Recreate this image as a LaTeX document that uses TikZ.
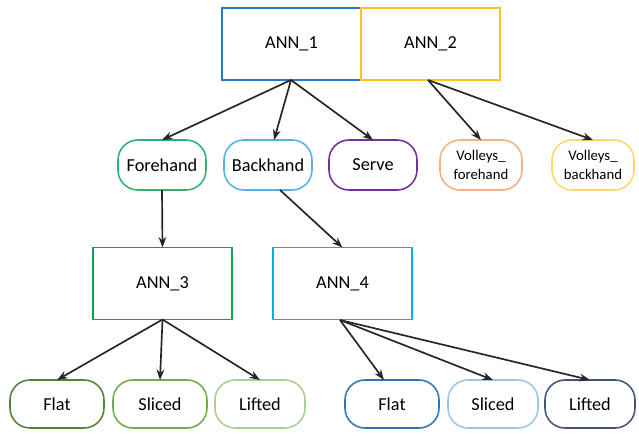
\documentclass[tikz,border=0pt]{standalone}
\usepackage{fontspec}
\setmainfont{Carlito}
\usetikzlibrary{arrows.meta}

\definecolor{annone}{RGB}{40,120,200}
\definecolor{anntwo}{RGB}{255,195,30}
\definecolor{annthree}{RGB}{0,166,81}
\definecolor{annfour}{RGB}{0,176,240}
\definecolor{forecol}{RGB}{40,180,110}
\definecolor{backcol}{RGB}{80,180,230}
\definecolor{servecol}{RGB}{112,48,160}
\definecolor{volfcol}{RGB}{244,177,131}
\definecolor{volbcol}{RGB}{255,217,102}
\definecolor{flatg}{RGB}{84,130,53}
\definecolor{slicedg}{RGB}{112,173,71}
\definecolor{liftedg}{RGB}{169,208,142}
\definecolor{flatb}{RGB}{46,117,182}
\definecolor{slicedb}{RGB}{157,195,230}
\definecolor{liftedb}{RGB}{68,84,120}

\tikzset{
    annbox/.style={draw, line width=1.3pt, minimum width=3.475cm, minimum height=1.8cm,
        inner sep=0pt, outer sep=0pt, font=\fontsize{13}{15}\selectfont},
    stroke/.style={draw, line width=1.1pt, rounded corners=0.5cm, minimum width=2.2cm,
        minimum height=1.25cm, inner sep=0pt, outer sep=0pt, align=center,
        font=\fontsize{13}{15}\selectfont},
    shot/.style={stroke, minimum width=2.35cm, minimum height=1.2cm},
    link/.style={line width=1.2pt, draw=black!85, -{Stealth[length=7.5pt,width=5.5pt]}},
}

\begin{document}
\begin{tikzpicture}[x=0.025cm, y=-0.025cm]
    \useasboundingbox (0,0) rectangle (639,435);

    \node [annbox, draw=annone] (ann1) at (291.5,44) {ANN\_1};
    \node [annbox, draw=anntwo] (ann2) at (430.5,44) {ANN\_2};

    \node [stroke, draw=forecol] (fore) at (162,165) {Forehand};
    \node [stroke, draw=backcol] (back) at (268,165) {Backhand};
    \node [stroke, draw=servecol] (serve) at (373,165) {Serve};
    \node [stroke, draw=volfcol, minimum width=2.05cm, font=\fontsize{10.5}{13}\selectfont]
        (volf) at (481,165) {Volleys\_\\forehand};
    \node [stroke, draw=volbcol, minimum width=2.05cm, font=\fontsize{10.5}{13}\selectfont]
        (volb) at (593,165) {Volleys\_\\backhand};

    \node [annbox, draw=annthree] (ann3) at (162.5,283.5) {ANN\_3};
    \node [annbox, draw=annfour] (ann4) at (342.5,283.5) {ANN\_4};

    \node [shot, draw=flatg] (flat3) at (57,404) {Flat};
    \node [shot, draw=slicedg] (sliced3) at (160,404) {Sliced};
    \node [shot, draw=liftedg, minimum width=2.25cm] (lifted3) at (260,404) {Lifted};
    \node [shot, draw=flatb] (flat4) at (392,404) {Flat};
    \node [shot, draw=slicedb, minimum width=2.25cm] (sliced4) at (493,404) {Sliced};
    \node [shot, draw=liftedb, minimum width=2.25cm] (lifted4) at (590,404) {Lifted};

    \coordinate (a1) at (291,80);
    \coordinate (a2) at (428,80);
    \coordinate (a4) at (340,320);

    \draw [link] (a1) -- (fore.north);
    \draw [link] (a1) -- ([xshift=0.15cm]back.north);
    \draw [link] (a1) -- (serve.north);
    \draw [link] (a2) -- (volf.north);
    \draw [link] (a2) -- (volb.north);

    \draw [link] (fore.south) -- (ann3.north);
    \draw [link] ([xshift=0.3cm]back.south) -- (ann4.north);

    \draw [link] (ann3.south) -- (flat3.north);
    \draw [link] (ann3.south) -- (sliced3.north);
    \draw [link] (ann3.south) -- (lifted3.north);
    \draw [link] (a4) -- ([xshift=-0.2cm]flat4.north);
    \draw [link] (a4) -- (sliced4.north);
    \draw [link] (a4) -- (lifted4.north);
\end{tikzpicture}
\end{document}
